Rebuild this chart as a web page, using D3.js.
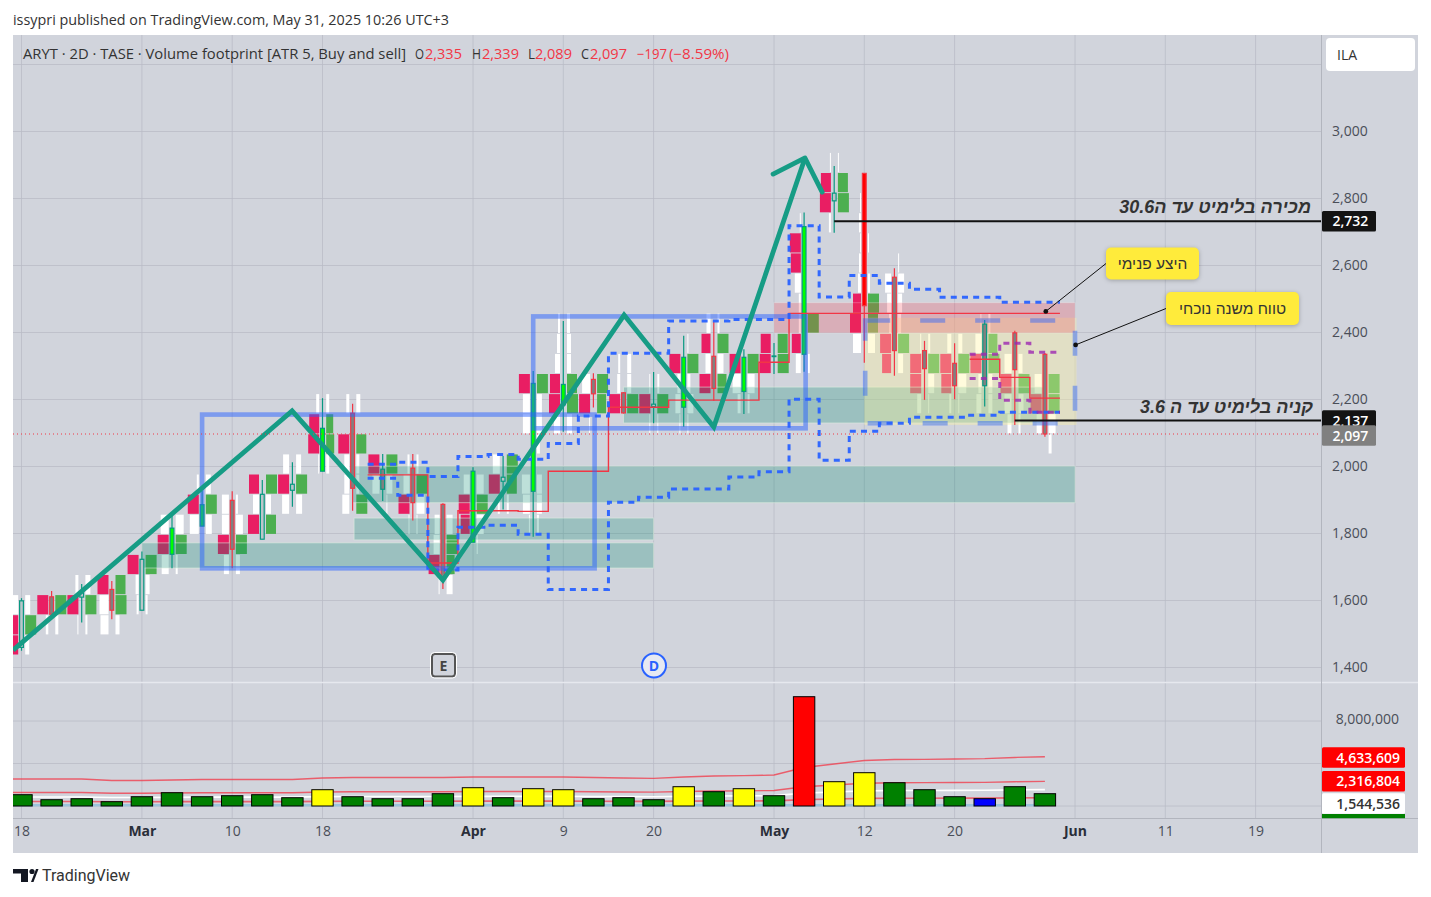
<!DOCTYPE html>
<html><head><meta charset="utf-8">
<style>html,body{margin:0;padding:0;background:#fff}svg{display:block}</style>
<script src="https://cdn.jsdelivr.net/npm/d3@7/dist/d3.min.js"></script></head><body>
<svg id="c" width="1431" height="897"></svg>
<script>
// ---------- DATA ----------
const priceTicks=[1400,1600,1800,2000,2200,2400,2600,2800,3000];
const priceGridOnly=[3200];
const timeTickIdx=[0,4,7,10,15,18,21,25,28,31,35,38,41];
const timeTickLbl=['18','Mar','10','18','Apr','9','20','May','12','20','Jun','11','19'];
const boldTicks=['Mar','Apr','May','Jun'];
const opens =[1460,1611,1610,1633,1571,1738,1822,1899,1783,1929,1986,2159,1932,1995,1887,1774,1956,1926,2184,2260,2220,2179,2177,2329,2224,2328,2335,2793,2875,2565,2346,2308,2241,2399,2335];
const closes=[1599,1559,1623,1571,1723,1816,1886,1753,1917,1947,2114,1935,1992,1892,1671,1986,1968,2248,2245,2217,2160,2186,2326,2233,2326,2330,2716,2816,2480,2346,2292,2241,2425,2289,2097];
const highs =[1607,1628,1649,1658,1746,1852,1927,1926,1960,2013,2204,2187,2037,2037,1890,1998,2031,2285,2434,2278,2222,2282,2390,2432,2350,2369,2758,2897,2875,2592,2375,2368,2437,2405,2339];
const lows  =[1450,1556,1534,1544,1571,1696,1822,1696,1783,1880,1986,1868,1897,1839,1634,1774,1872,1790,2104,2176,2158,2129,2119,2196,2157,2276,2283,2698,2310,2271,2199,2201,2179,2124,2089];
const bodyKinds='PGPGPLLGPPLGGGGLPLLGGPLGLPLPRGGGGGG'.split('');
const volumes=[1064,593,687,405,875,1252,875,969,1064,781,1534,875,687,687,1158,1722,781,1628,1534,687,781,593,1816,1346,1628,969,10287,2287,3134,2193,1534,875,687,1816,1158];
const volKinds='GGGGGGGGGGYGGGGYGYYGGGYGYGRYYGGGBGG'.split('');
const volHigh=[2541,2541,2541,2400,2400,2447,2494,2494,2494,2494,2635,2682,2682,2682,2682,2729,2729,2729,2729,2682,2635,2607,2729,2824,2852,2918,3624,3953,4282,4376,4395,4424,4452,4565,4634];
const volMid=[1270,1270,1270,1200,1200,1224,1247,1247,1247,1247,1318,1341,1341,1341,1341,1365,1365,1365,1365,1341,1318,1304,1365,1412,1426,1459,1812,1977,2141,2188,2198,2212,2226,2283,2317];
const volAvg=[847,847,847,800,800,816,831,831,831,831,878,894,894,894,894,910,910,910,910,894,878,869,910,941,951,973,1208,1318,1427,1459,1465,1475,1484,1522,1545];
const volLow=[424,424,424,400,400,408,416,416,416,416,439,447,447,447,447,455,455,455,455,447,439,435,455,471,475,486,604,659,714,729,733,737,742,761,772];
// footprint rows: bar, row number, sell size, buy size, colours (p pink, g green, w white)
const footprint=[
[0,1,7,5,'ww'],[0,0,7,11,'pg'],[0,-1,7,4,'pw'],
[1,1,11,11,'pg'],[1,0,2.5,3,'ww'],
[2,2,3,5,'ww'],[2,1,11,11,'pg'],[2,0,1,2,'ww'],
[3,2,11,10,'pg'],[3,1,9,11,'wg'],[3,0,8,4,'ww'],
[4,3,11,11,'pg'],[4,2,3,4,'ww'],[4,1,2,2,'ww'],
[5,5,8,8,'ww'],[5,4,11,11,'pg'],[5,3,7,2,'ww'],
[6,7,2,5,'ww'],[6,6,11,11,'pg'],[6,5,9,6,'ww'],
[7,6,7,2,'ww'],[7,5,7,7,'ww'],[7,4,11,11,'pg'],[7,3,5,4,'ww'],
[8,7,10,11,'pg'],[8,6,6,5,'ww'],[8,5,11,10,'pg'],
[9,8,6,5,'ww'],[9,7,11,11,'pg'],[9,6,7,6,'ww'],
[10,11,3,3,'ww'],[10,10,10,7,'pg'],[10,9,11,8,'pg'],[10,8,1,3,'ww'],
[11,11,3,4,'ww'],[11,9,11,10,'pg'],[11,8,5,3,'ww'],[11,7,5,3,'ww'],[11,6,7,11,'wg'],
[12,8,11,11,'pg'],[12,7,7,6,'ww'],[12,6,0,1,'ww'],
[13,8,2,2,'ww'],[13,7,6,11,'wg'],[13,6,11,8,'pw'],[13,5,1,1,'ww'],
[14,5,5,6,'ww'],[14,4,6,11,'wg'],[14,3,11,8,'pg'],[14,2,1,6,'ww'],
[15,7,6,7,'ww'],[15,6,11,11,'pg'],[15,5,9,7,'pw'],[15,4,0,1,'ww'],
[16,8,7,11,'wg'],[16,7,11,10,'pg'],[16,6,2,2,'ww'],
[17,12,11,11,'pg'],[17,11,7,5,'ww'],[17,10,7,5,'ww'],[17,9,0,3,'ww'],[17,7,8,5,'ww'],[17,6,7,5,'ww'],[17,5,1,2,'ww'],
[18,15,2,3,'ww'],[18,14,3,4,'ww'],[18,13,5,4,'ww'],[18,12,10,10,'pg'],[18,11,11,11,'pg'],[18,10,6,5,'ww'],
[19,12,8,11,'wg'],[19,11,11,9,'pg'],[19,10,1,0,'ww'],
[20,13,2,4,'ww'],[20,12,3,4,'ww'],[20,11,11,11,'pg'],
[21,12,1,2,'ww'],[21,11,11,11,'pg'],[21,10,1,1,'ww'],
[22,14,0,1,'ww'],[22,13,11,11,'pg'],[22,12,3,3,'ww'],[22,11,5,6,'ww'],[22,10,1,1,'ww'],
[23,15,4,2,'ww'],[23,14,9,11,'pg'],[23,13,5,6,'ww'],[23,12,11,9,'pg'],
[24,13,11,11,'pg'],[24,12,8,7,'ww'],[24,11,3,2,'ww'],
[25,14,10,10,'pg'],[25,13,11,11,'pg'],
[26,20,1,0,'ww'],[26,19,11,0,'pw'],[26,18,10,0,'pw'],[26,17,6,0,'ww'],[26,16,2,0,'ww'],[26,15,2,11,'wg'],[26,14,9,0,'pw'],[26,13,5,2,'ww'],
[27,23,1,1,'ww'],[27,22,10,10,'pg'],[27,21,11,11,'pg'],[27,20,2,0,'ww'],
[28,21,1,0,'ww'],[28,20,2,0,'ww'],[28,19,1,1,'ww'],[28,18,2,0,'ww'],[28,17,3,2,'ww'],[28,16,8,11,'pg'],[28,15,11,10,'pg'],[28,14,8,7,'ww'],
[29,18,0,1,'ww'],[29,17,6,6,'ww'],[29,16,4,4,'ww'],[29,15,2,3,'ww'],[29,14,11,11,'pg'],[29,13,9,5,'pw'],
[30,14,1,2,'ww'],[30,13,11,11,'pg'],[30,12,11,6,'pw'],[30,11,4,1,'ww'],
[31,14,4,4,'ww'],[31,13,11,11,'pg'],[31,12,10,8,'pw'],[31,11,2,1,'ww'],
[32,15,1,2,'ww'],[32,14,6,9,'wg'],[32,13,11,11,'pg'],[32,12,3,4,'ww'],[32,11,5,4,'ww'],
[33,13,7,4,'ww'],[33,12,11,11,'pg'],[33,11,7,5,'ww'],[33,10,4,2,'ww'],
[34,12,7,11,'wg'],[34,11,11,11,'pg'],[34,10,5,7,'ww'],[34,9,0,3,'ww']];
const rowBase=1497,rowStep=60;
// step levels starting at bar edge 11.5
const vahLevels=[2007,2013,1970,2030,2036,2022,2069,2151,2338,2338,2434,2434,2439,2439,2719,2506,2570,2547,2529,2505,2505,2490,2490,2490];
const valLevels=[1965,1914,1691,1819,1825,1798,1633,1633,1893,1908,1933,1933,1969,1984,2201,2019,2105,2129,2147,2147,2153,2162,2162,2162];
const pocLevels=[1975,1975,1712,1868,1868,1866,1986,1986,2177,2177,2198,2198,2198,2311,2457,2457,2457,2457,2457,2457,2457,2457,2457,2457];
// developing levels starting at bar edge 31.5
const vahNow=[2335,2368,2341,2341], valNow=[2263,2198,2162,2162], pocNow=[2320,2266,2204,2204];
const zigzag=[[-0.28,1452],[8.99,2166],[14,1661],[20.02,2452],[23,2118],[26.03,2921]];
const arrowHead=[[24.97,2873],[26.03,2921],[26.6,2819]];
const tealZones=[[4,21,1772,1697],[11.05,21,1846,1781],[11,35,2001,1892],[20,34,2237,2130]];
const pinkZone=[25,35,2489,2399];
const yellowZone=[28,35.05,2444,2124];
const dashedBox=[28.03,35,2436,2129];
const blueBoxes=[[6,19.04,2155,1696],[17,26.05,2448,2114]];
const limitLines=[[27,2732],[33,2137]];
const lastPrice=2097;
const sellNote='מכירה בלימיט עד ה30.6', buyNote='קניה בלימיט עד ה 3.6';
const callouts=[{t:'היצע פנימי',a:[34.03,2463]},{t:'טווח משנה נוכחי',a:[35.02,2363]}];
const volLabels=[[4633609,'#ff0000','#fff'],[2316804,'#ff0000','#fff'],[1544536,'#ffffff','#333']];

// ---------- SCALES ----------
const svg=d3.select('#c');
const L=13,R=1321,F='"Open Sans",sans-serif';
const x=d3.scaleLinear().domain([0,41]).range([21.5,21.5+30.1*41]);
const y=d3.scaleLinear().domain([1400,3000]).range([667.5,131.5]);
const yV=d3.scaleLinear().domain([0,8000000]).range([806,721]);
const cellW=d3.scaleLinear().domain([0,11]).range([0,11]);
const colors={p:'#E91E63',g:'#4CAF50',w:'#ffffff'};
const bodyFill={P:'#bcc6ca',G:'#808080',L:'#00ff00',R:'#ff0000'};
const volFill={G:'#008000',Y:'#ffff00',R:'#ff0000',B:'#0000ff'};
const defs=svg.append('defs');
defs.append('clipPath').attr('id','cp').append('rect').attr('x',L).attr('y',35).attr('width',R-L).attr('height',647);
defs.append('clipPath').attr('id','cv').append('rect').attr('x',L).attr('y',683).attr('width',R-L).attr('height',135);

// ---------- FRAME ----------
svg.append('rect').attr('x',13).attr('y',35).attr('width',1405).attr('height',818).attr('fill','#D1D4DC');
svg.append('text').attr('x',13).attr('y',24.5).attr('font-family',F).attr('font-size',14).attr('fill','#333').attr('textLength',436).attr('lengthAdjust','spacingAndGlyphs').text('issypri published on TradingView.com, May 31, 2025 10:26 UTC+3');

// ---------- GRID ----------
const grid=svg.append('g').attr('stroke','#B8BBC6').attr('stroke-opacity',.75);
priceGridOnly.concat(priceTicks).forEach(p=>grid.append('line').attr('x1',L).attr('x2',R).attr('y1',y(p)).attr('y2',y(p)));
[8000000,4000000,0].forEach(v=>grid.append('line').attr('x1',L).attr('x2',R).attr('y1',yV(v)).attr('y2',yV(v)));
timeTickIdx.forEach(i=>grid.append('line').attr('x1',x(i)).attr('x2',x(i)).attr('y1',35).attr('y2',818));

// ---------- MAIN PANE ----------
const main=svg.append('g').attr('clip-path','url(#cp)');
const gap=3.3;
const gc=main.append('g');
footprint.forEach(([i,k,s,b,c])=>{
  const top=y(rowBase+rowStep*(k+1))+.3,h=y(rowBase+rowStep*k)-top-.6;
  if(s>0)gc.append('rect').attr('x',x(i)-gap-cellW(s)).attr('y',top).attr('width',cellW(s)).attr('height',h).attr('fill',colors[c[0]]);
  if(b>0)gc.append('rect').attr('x',x(i)+gap+.4).attr('y',top).attr('width',cellW(b)).attr('height',h).attr('fill',colors[c[1]]);
});
const zone=(g,z,f,st)=>g.append('rect').attr('x',x(z[0])).attr('width',x(z[1])-x(z[0])).attr('y',y(z[2])).attr('height',y(z[3])-y(z[2])).attr('fill',f).attr('stroke',st||'none');
tealZones.forEach(z=>zone(main,z,'rgba(0,137,110,.26)','rgba(222,240,225,.55)'));
zone(main,yellowZone,'rgba(255,245,157,.36)');
zone(main,pinkZone,'rgba(242,54,69,.24)','rgba(255,255,255,.25)');

// candles
const cg=main.append('g');
opens.forEach((o,i)=>{
  const up=closes[i]>=o,col=up?'#089981':'#F23645';
  cg.append('line').attr('x1',x(i)).attr('x2',x(i)).attr('y1',y(highs[i])).attr('y2',y(lows[i])).attr('stroke',col).attr('stroke-width',1.2);
  const t=y(Math.max(o,closes[i])),h=y(Math.min(o,closes[i]))-t;
  cg.append('rect').attr('x',x(i)-1.9).attr('width',3.8).attr('y',t).attr('height',Math.max(h,.6)).attr('fill',bodyFill[bodyKinds[i]]).attr('stroke',col).attr('stroke-width',1.2);
});

// step lines
const step=start=>d3.line().x((d,k)=>x(start+k)).y(d=>y(d)).curve(d3.curveStepAfter);
const pth=(d,st,w,da,op)=>main.append('path').attr('d',d).attr('fill','none').attr('stroke',st).attr('stroke-width',w).attr('stroke-dasharray',da||null).attr('opacity',op||1);
pth(step(11.5)(pocLevels),'#F23645',1.4);
pth(step(31.5)(pocNow),'#F23645',1.4);
pth(step(11.5)(vahLevels),'#2962FF',3,'6 5.2',.95);
pth(step(11.5)(valLevels),'#2962FF',3,'6 5.2',.95);
pth(step(31.5)(vahNow),'#9C27B0',3,'6 5.2',.8);
pth(step(31.5)(valNow),'#9C27B0',3,'6 5.2',.8);

// blue boxes
blueBoxes.forEach(b=>zone(main,b,'none','rgba(41,98,255,.5)').attr('stroke-width',4.6));
zone(main,dashedBox,'none','rgba(41,98,255,.45)').attr('stroke-width',4.6).attr('stroke-dasharray','25 30');

// zigzag
const lin=d3.line().x(d=>x(d[0])).y(d=>y(d[1]));
main.append('path').attr('d',lin(zigzag)).attr('fill','none').attr('stroke','#169C85').attr('stroke-width',4.8).attr('stroke-linejoin','miter');
main.append('path').attr('d',lin(arrowHead)).attr('fill','none').attr('stroke','#169C85').attr('stroke-width',4.8).attr('stroke-linecap','round').attr('stroke-linejoin','round');

// last price + limits
main.append('line').attr('x1',L).attr('x2',R).attr('y1',y(lastPrice)).attr('y2',y(lastPrice)).attr('stroke','#F23645').attr('stroke-width',1).attr('stroke-dasharray','1 3');
limitLines.forEach(([i,p])=>main.append('line').attr('x1',x(i)).attr('x2',R).attr('y1',y(p)).attr('y2',y(p)).attr('stroke','#111').attr('stroke-width',2));

// notes
const HB='"Liberation Sans",Arial,sans-serif';
[[sellNote,1311,213],[buyNote,1313,413]].forEach(([t,a,b])=>svg.append('text').attr('x',a).attr('y',b).attr('direction','rtl').attr('text-anchor','start').attr('font-family',HB).attr('font-size',18).attr('font-style','italic').attr('font-weight','bold').attr('fill','#333').text(t));

// callouts
const boxes=[[1106,247.5,93,32],[1166,292,133,33]];
callouts.forEach((c,k)=>{
  const [bx,by,bw,bh]=boxes[k],ax=x(c.a[0]),ay=y(c.a[1]);
  svg.append('line').attr('x1',ax).attr('y1',ay).attr('x2',bx).attr('y2',by+bh/2).attr('stroke','#111').attr('stroke-width',1);
  svg.append('circle').attr('cx',ax).attr('cy',ay).attr('r',2.4).attr('fill','#111');
  svg.append('rect').attr('x',bx).attr('y',by).attr('width',bw).attr('height',bh).attr('rx',5).attr('fill','#FFEB3B').style('filter','drop-shadow(0 1px 2px rgba(0,0,0,.25))');
  svg.append('text').attr('x',bx+bw/2).attr('y',by+bh/2+5).attr('direction','rtl').attr('text-anchor','middle').attr('font-family',HB).attr('font-size',15.5).attr('fill','#333').text(c.t);
});

// earnings / dividends badges
svg.append('rect').attr('x',432).attr('y',654).attr('width',23).attr('height',22.5).attr('rx',3).attr('fill','#D1D4DC').attr('stroke','#555').attr('stroke-width',2);
svg.append('rect').attr('x',430.5).attr('y',652.5).attr('width',26).attr('height',25.5).attr('rx',4).attr('fill','none').attr('stroke','#fff').attr('stroke-width',1);
svg.append('text').attr('x',443.5).attr('y',670.5).attr('text-anchor','middle').attr('font-family',F).attr('font-weight',700).attr('font-size',14).attr('fill','#444').text('E');
svg.append('circle').attr('cx',654).attr('cy',665.5).attr('r',12).attr('fill','#E6E9F2').attr('stroke','#2962FF').attr('stroke-width',2);
svg.append('text').attr('x',654).attr('y',670.5).attr('text-anchor','middle').attr('font-family',F).attr('font-weight',700).attr('font-size',14).attr('fill','#2962FF').text('D');

// ---------- VOLUME PANE ----------
const vol=svg.append('g').attr('clip-path','url(#cv)');
const vbase=[-1].concat(d3.range(volHigh.length));
const vline=a=>d3.line().x(i=>x(i)).y(i=>yV(a[Math.max(i,0)]*1000))(vbase);
vol.append('rect').attr('x',L).attr('width',x(34)-L).attr('y',yV(0)-2).attr('height',2.4).attr('fill','#9CC4DC');
vol.append('path').attr('d',vline(volLow)).attr('fill','none').attr('stroke','#F23645').attr('stroke-opacity',.7).attr('stroke-width',1.6);
vol.append('path').attr('d',vline(volAvg)).attr('fill','none').attr('stroke','#fff').attr('stroke-width',1.6);
vol.append('path').attr('d',vline(volMid)).attr('fill','none').attr('stroke','#F23645').attr('stroke-opacity',.75).attr('stroke-width',1.3);
vol.append('path').attr('d',vline(volHigh)).attr('fill','none').attr('stroke','#F23645').attr('stroke-opacity',.75).attr('stroke-width',1.3);
vol.selectAll('rect.v').data(volumes).enter().append('rect').attr('class','v')
 .attr('x',(d,i)=>x(i)-10.7).attr('width',21.4).attr('y',d=>yV(d*1000)).attr('height',d=>yV(0)-yV(d*1000))
 .attr('fill',(d,i)=>volFill[volKinds[i]]).attr('stroke','#000').attr('stroke-width',1);

// ---------- SEPARATORS ----------
svg.append('line').attr('x1',13).attr('x2',1418).attr('y1',682.5).attr('y2',682.5).attr('stroke','#E6E8EE').attr('stroke-width',1.5);
svg.append('line').attr('x1',13).attr('x2',1418).attr('y1',818.5).attr('y2',818.5).attr('stroke','#B2B5BE');
svg.append('line').attr('x1',1321.5).attr('x2',1321.5).attr('y1',35).attr('y2',853).attr('stroke','#B2B5BE');

// ---------- AXES ----------
const styleAxis=g=>{g.select('.domain').remove();g.selectAll('.tick line').remove();g.selectAll('text').attr('font-family',F).attr('font-size',14).attr('fill','#4a4e58');};
svg.append('g').attr('transform',`translate(1332,0)`).call(d3.axisRight(y).tickValues(priceTicks).tickFormat(d3.format(',')).tickSize(0).tickPadding(0)).call(styleAxis);
svg.append('g').attr('transform',`translate(1399,-2)`).call(d3.axisLeft(yV).tickValues([8000000]).tickFormat(d3.format(',')).tickSize(0).tickPadding(0)).call(styleAxis);
svg.append('g').attr('transform',`translate(0,826)`).call(d3.axisBottom(x).tickValues(timeTickIdx).tickFormat((d,k)=>timeTickLbl[k]).tickSize(0).tickPadding(0)).call(styleAxis)
  .selectAll('text').attr('font-weight',function(){return boldTicks.includes(this.textContent)?700:400}).attr('fill',function(){return boldTicks.includes(this.textContent)?'#2a2e39':'#4a4e58'});

// price labels
const tag=(v,bg,fg,yy,x0,w,fmt,anchor,tx)=>{svg.append('rect').attr('x',x0).attr('y',yy-10.3).attr('width',w).attr('height',20.6).attr('rx',1.5).attr('fill',bg);
 svg.append('text').attr('x',tx).attr('y',yy+5).attr('text-anchor',anchor).attr('font-family',F).attr('font-size',14).attr('font-weight',600).attr('fill',fg).text(d3.format(',')(v));};
tag(2732,'#131313','#fff',y(2732),1322,54,0,'start',1332.5);
tag(2137,'#131313','#fff',y(2137),1322,54,0,'start',1332.5);
tag(2097,'#808080','#fff',435.5,1322,54,0,'start',1332.5);
const vlY=[757.5,781.2,803.5];
volLabels.forEach((v,k)=>tag(v[0],v[1],v[2],vlY[k],1322,83,0,'end',1400));
svg.append('rect').attr('x',1322).attr('y',814).attr('width',83).attr('height',4.2).attr('fill','#008000');

// header legend
const lg=svg.append('g').attr('font-family',F).attr('font-size',14);
[['ARYT · 2D · TASE · Volume footprint [ATR 5, Buy and sell]',23,'#333',383],['O',415,'#333',9],['2,335',425,'#F23645',37],['H',472,'#333',9],['2,339',482,'#F23645',37],['L',528,'#333',7],['2,089',535,'#F23645',37],['C',581,'#333',8],['2,097',590,'#F23645',37],['−197',637,'#F23645',30],['(−8.59%)',669,'#F23645',60]]
 .forEach(([t,a,c,w])=>lg.append('text').attr('x',a).attr('y',59).attr('fill',c).attr('textLength',w).attr('lengthAdjust','spacingAndGlyphs').text(t));

// currency badge
svg.append('rect').attr('x',1326).attr('y',38).attr('width',89).attr('height',33).attr('rx',4).attr('fill','#fff');
svg.append('text').attr('x',1337).attr('y',60).attr('font-family',F).attr('font-size',14).attr('fill','#333').text('ILA');

// footer
const lo=svg.append('g').attr('fill','#131722');
lo.append('path').attr('d','M13 869H28V882H21V873.5H13Z');
lo.append('circle').attr('cx',32).attr('cy',871.5).attr('r',2.6);
lo.append('path').attr('d','M31 882L36 869H38.5L33.5 882Z');
svg.append('text').attr('x',42).attr('y',881).attr('font-family','Roboto,sans-serif').attr('font-size',16).attr('fill','#333').text('TradingView');
</script></body></html>
